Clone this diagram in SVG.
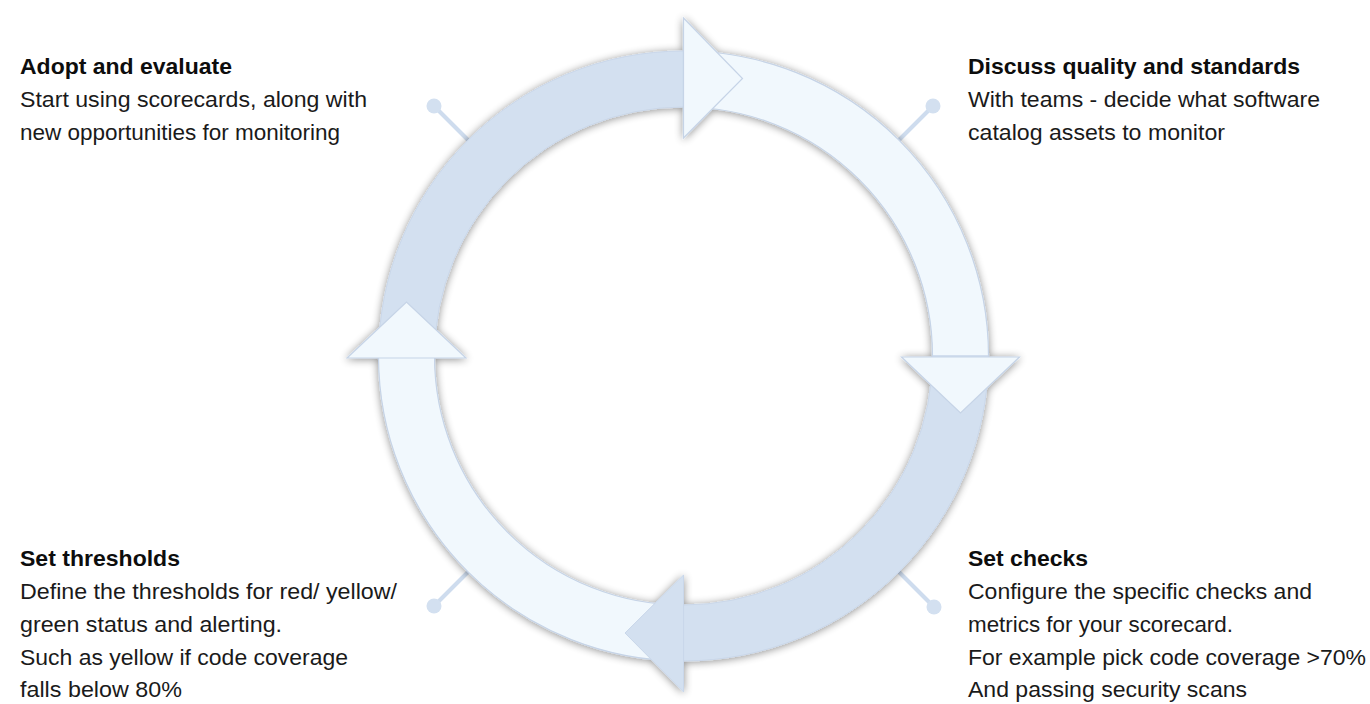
<svg xmlns="http://www.w3.org/2000/svg" width="1370" height="704" viewBox="0 0 1370 704">
  <style>
    .title { font-family: "Liberation Sans", Arial, sans-serif; font-size: 22px; font-weight: bold; fill: #0d0d0d; }
    .body { font-family: "Liberation Sans", Arial, sans-serif; font-size: 22px; fill: #1a1a1a; }
    .dark { fill: #d3e0f0; stroke: #c9d7ea; stroke-width: 1; }
    .light { fill: #f1f8fd; stroke: #c6d4e7; stroke-width: 1.2; }
    .pin line { stroke: #cedcee; stroke-width: 4; stroke-linecap: round; }
    .pin circle { fill: #d3e0f0; }
  </style>
  <defs>
    <filter id="soft" x="-10%" y="-10%" width="120%" height="120%">
      <feGaussianBlur in="SourceAlpha" stdDeviation="4.5"/>
      <feOffset dx="0" dy="1" result="b"/>
      <feComponentTransfer><feFuncA type="linear" slope="0.45"/></feComponentTransfer>
      <feMerge><feMergeNode/><feMergeNode in="SourceGraphic"/></feMerge>
    </filter>
  </defs>
  <rect width="1370" height="704" fill="#ffffff"/>

  <!-- pins from the ring to each stage label -->
  <g id="connectors">
    <g class="pin"><line x1="468" y1="140" x2="434" y2="106"/><circle cx="434" cy="106" r="7.5"/></g>
    <g class="pin"><line x1="899" y1="140" x2="933" y2="106"/><circle cx="933" cy="106" r="7.5"/></g>
    <g class="pin"><line x1="468" y1="572" x2="434" y2="606"/><circle cx="434" cy="606" r="7.5"/></g>
    <g class="pin"><line x1="899" y1="572" x2="934" y2="607"/><circle cx="934" cy="607" r="7.5"/></g>
  </g>

  <!-- the cycle: four quarter-arc arrows around (683.5, 356) -->
  <g id="cycle" filter="url(#soft)">
    <path class="dark" d="M378.5 356 A305 305 0 0 1 683.5 51 L683.5 107 A249 249 0 0 0 434.5 356 Z"/>
    <path class="light" d="M683.5 51 A305 305 0 0 1 988.5 356 L932.5 356 A249 249 0 0 0 683.5 107 Z"/>
    <path class="dark" d="M988.5 356 A305 305 0 0 1 683.5 661 L683.5 605 A249 249 0 0 0 932.5 356 Z"/>
    <path class="light" d="M683.5 661 A305 305 0 0 1 378.5 356 L434.5 356 A249 249 0 0 0 683.5 605 Z"/>
    <path class="light" d="M683.5 18 L742.5 78.5 L683.5 138 Z"/>
    <path class="light" d="M901.5 357 L1019.5 357 L960.5 413 Z"/>
    <path class="dark" d="M683.5 575 L683.5 692 L625 633 Z"/>
    <path class="light" d="M347 358 L466 358 L406.5 302 Z"/>
  </g>

  <g id="stage-adopt">
    <text class="title" x="20" y="74" textLength="212" lengthAdjust="spacingAndGlyphs">Adopt and evaluate</text>
    <text class="body" x="20" y="107" textLength="347" lengthAdjust="spacingAndGlyphs">Start using scorecards, along with</text>
    <text class="body" x="20" y="140" textLength="320" lengthAdjust="spacingAndGlyphs">new opportunities for monitoring</text>
  </g>

  <g id="stage-discuss">
    <text class="title" x="968" y="74" textLength="332" lengthAdjust="spacingAndGlyphs">Discuss quality and standards</text>
    <text class="body" x="968" y="107" textLength="352" lengthAdjust="spacingAndGlyphs">With teams - decide what software</text>
    <text class="body" x="968" y="140" textLength="257" lengthAdjust="spacingAndGlyphs">catalog assets to monitor</text>
  </g>

  <g id="stage-thresholds">
    <text class="title" x="20" y="566" textLength="160" lengthAdjust="spacingAndGlyphs">Set thresholds</text>
    <text class="body" x="20" y="599" textLength="377" lengthAdjust="spacingAndGlyphs">Define the thresholds for red/ yellow/</text>
    <text class="body" x="20" y="632" textLength="262" lengthAdjust="spacingAndGlyphs">green status and alerting.</text>
    <text class="body" x="20" y="665" textLength="328" lengthAdjust="spacingAndGlyphs">Such as yellow if code coverage</text>
    <text class="body" x="20" y="697" textLength="162" lengthAdjust="spacingAndGlyphs">falls below 80%</text>
  </g>

  <g id="stage-checks">
    <text class="title" x="968" y="566" textLength="120" lengthAdjust="spacingAndGlyphs">Set checks</text>
    <text class="body" x="968" y="599" textLength="344" lengthAdjust="spacingAndGlyphs">Configure the specific checks and</text>
    <text class="body" x="968" y="632" textLength="265" lengthAdjust="spacingAndGlyphs">metrics for your scorecard.</text>
    <text class="body" x="968" y="665" textLength="398" lengthAdjust="spacingAndGlyphs">For example pick code coverage &gt;70%</text>
    <text class="body" x="968" y="697" textLength="279" lengthAdjust="spacingAndGlyphs">And passing security scans</text>
  </g>
</svg>
